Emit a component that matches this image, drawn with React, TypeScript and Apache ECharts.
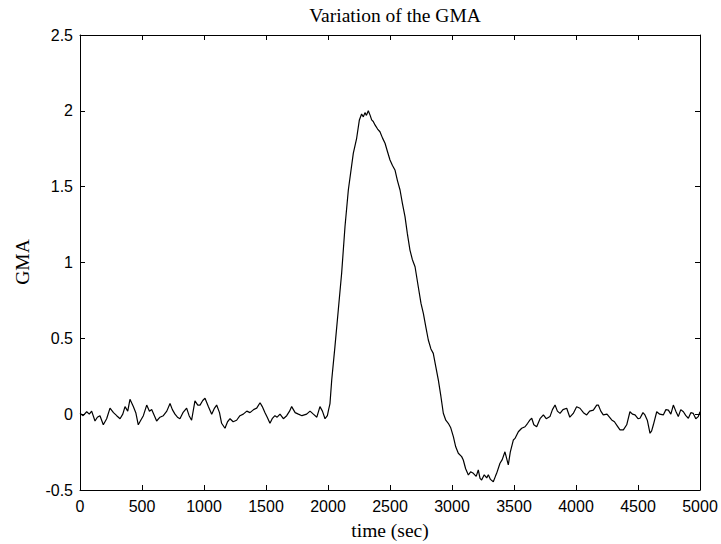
import React, { useEffect, useRef } from "react";
import * as echarts from "echarts";

const titleText = "Variation of the GMA";
const xLabel = "time (sec)";
const yLabel = "GMA";

const timeSec: number[] = [
  0, 25, 54, 75, 94, 121, 140, 161, 188, 215, 242, 270, 296, 323, 345, 363, 385, 403, 430, 450,
  470, 490, 511, 538, 560, 578, 600, 618, 645, 672, 700, 726, 745, 766, 786, 806, 830, 860, 880, 900,
  927, 950, 968, 990, 1008, 1035, 1062, 1085, 1102, 1125, 1142, 1169, 1190, 1210, 1235, 1263, 1290, 1317, 1345, 1371,
  1400, 1425, 1452, 1470, 1492, 1510, 1532, 1550, 1572, 1590, 1613, 1640, 1667, 1690, 1707, 1735, 1761, 1790, 1828, 1855,
  1882, 1910, 1935, 1955, 1976, 1995, 2005,
  2016, 2030, 2056, 2083, 2110, 2137, 2164, 2204, 2231, 2253, 2271, 2285, 2298, 2310, 2325, 2340, 2352, 2365, 2379, 2400,
  2419, 2440, 2460, 2480, 2500, 2520, 2540, 2560, 2581, 2600, 2621, 2640, 2661, 2680, 2702, 2728, 2750, 2769, 2790, 2809,
  2830, 2849, 2870, 2890, 2910, 2930, 2950, 2970, 2990, 3011, 3030, 3051, 3078, 3091, 3110, 3132, 3150, 3172, 3195, 3212,
  3226, 3239, 3260, 3280, 3293, 3310, 3333, 3350, 3360, 3387, 3405, 3427, 3440, 3454, 3470, 3495, 3508, 3535, 3562, 3589,
  3610, 3629, 3643, 3660, 3683, 3710, 3737, 3760, 3790, 3810, 3831, 3850, 3871, 3895, 3925, 3950, 3978, 4005, 4032, 4060,
  4086, 4110, 4140, 4167, 4180, 4200, 4220, 4250, 4288, 4310, 4335, 4355, 4382, 4409, 4435, 4455, 4476, 4500, 4516, 4540,
  4556, 4575, 4597, 4610, 4624, 4651, 4675, 4704, 4725, 4745, 4765, 4785, 4805, 4825, 4845, 4866, 4886, 4906, 4926, 4946,
  4966, 4986, 5000,
];

const gmaValues: number[] = [
  0.006, -0.01, 0.016, 0.0, 0.02, -0.045, -0.02, -0.01, -0.07, -0.03, 0.04, 0.01, -0.01, -0.03, 0.0, 0.05, 0.02, 0.098, 0.05, 0.01,
  -0.07, -0.04, -0.01, 0.06, 0.02, 0.03, -0.01, -0.045, -0.02, -0.01, 0.02, 0.07, 0.03, 0.0, -0.02, -0.03, 0.01, 0.04, -0.01, -0.04,
  0.088, 0.06, 0.06, 0.09, 0.105, 0.05, 0.0, 0.04, 0.06, 0.01, -0.06, -0.093, -0.05, -0.03, -0.05, -0.04, -0.01, 0.0, 0.02, 0.01,
  0.03, 0.04, 0.075, 0.05, 0.01, -0.02, -0.06, -0.03, -0.01, -0.02, 0.0, -0.03, -0.01, 0.02, 0.05, 0.01, 0.0, -0.01, 0.0, 0.02,
  0.0, -0.02, 0.05, 0.02, -0.03, -0.01, 0.03,
  0.07, 0.225, 0.445, 0.687, 0.929, 1.236, 1.478, 1.72, 1.819, 1.94, 1.979, 1.96, 1.988, 1.97, 2.0, 1.97, 1.94, 1.93, 1.907, 1.88,
  1.862, 1.82, 1.786, 1.73, 1.676, 1.64, 1.61, 1.54, 1.478, 1.39, 1.302, 1.19, 1.082, 1.02, 0.972, 0.84, 0.73, 0.665, 0.57, 0.489,
  0.43, 0.401, 0.31, 0.225, 0.12, 0.006, -0.04, -0.06, -0.09, -0.148, -0.215, -0.258, -0.28, -0.302, -0.36, -0.401, -0.38, -0.39, -0.41, -0.368,
  -0.423, -0.434, -0.4, -0.42, -0.4, -0.43, -0.445, -0.41, -0.39, -0.324, -0.3, -0.248, -0.29, -0.335, -0.25, -0.17, -0.16, -0.116, -0.093, -0.083,
  -0.06, -0.038, -0.027, -0.07, -0.083, -0.03, -0.005, -0.03, -0.016, 0.03, 0.06, 0.02, 0.005, 0.03, 0.039, -0.02, 0.005, 0.049, 0.039, 0.01,
  -0.005, 0.02, 0.027, 0.06, 0.06, 0.02, -0.005, 0.0, -0.038, -0.05, -0.08, -0.104, -0.104, -0.07, 0.016, 0.0, -0.005, -0.03, -0.027, 0.01,
  -0.005, -0.04, -0.126, -0.11, -0.07, 0.016, 0.0, -0.005, 0.03, 0.027, 0.0, 0.06, 0.02, -0.016, 0.03, 0.016, -0.01, -0.027, 0.01, 0.005,
  -0.03, -0.016, 0.016,
];

const xMin = 0;
const xMax = 5000;
const xStep = 500;
const yMin = -0.5;
const yMax = 2.5;
const yStep = 0.5;

export default function App() {
  const ref = useRef<HTMLDivElement>(null);

  useEffect(() => {
    document.body.style.margin = "0";
    if (!ref.current) return;
    const chart = echarts.init(ref.current, null, { renderer: "svg" });
    const data = timeSec.map((t, i) => [t, gmaValues[i]]);
    const sans = "'Liberation Sans', Arial, sans-serif";
    const serif = "'Liberation Serif', 'Times New Roman', serif";
    const tickStyle = { show: true, inside: true, length: 5, lineStyle: { color: "#000", width: 1 } };
    const lineStyle = { show: true, onZero: false, lineStyle: { color: "#000", width: 1 } };
    const plain = (v: number) => String(v);
    chart.setOption({
      animation: false,
      backgroundColor: "#fff",
      grid: { left: 80, right: 21, top: 35, bottom: 54, containLabel: false },
      title: {
        text: titleText,
        left: 390,
        top: 0,
        textAlign: "center",
        textStyle: { fontFamily: serif, fontSize: 19.5, fontWeight: "normal", color: "#000" },
      },
      graphic: [
        {
          type: "text",
          x: 390,
          y: 530,
          style: { text: xLabel, font: `19.5px ${serif}`, fill: "#000", textAlign: "center", textVerticalAlign: "middle" },
        },
        {
          type: "text",
          x: 22,
          y: 262,
          rotation: Math.PI / 2,
          style: { text: yLabel, font: `19.5px ${serif}`, fill: "#000", textAlign: "center", textVerticalAlign: "middle" },
        },
      ],
      xAxis: [
        {
          type: "value",
          min: xMin,
          max: xMax,
          interval: xStep,
          position: "bottom",
          axisLine: lineStyle,
          axisTick: tickStyle,
          splitLine: { show: false },
          axisLabel: { color: "#000", fontFamily: sans, fontSize: 16, margin: 8, formatter: plain },
        },
        {
          type: "value",
          min: xMin,
          max: xMax,
          interval: xStep,
          position: "top",
          axisLine: lineStyle,
          axisTick: tickStyle,
          splitLine: { show: false },
          axisLabel: { show: false },
        },
      ],
      yAxis: [
        {
          type: "value",
          min: yMin,
          max: yMax,
          interval: yStep,
          position: "left",
          axisLine: lineStyle,
          axisTick: tickStyle,
          splitLine: { show: false },
          axisLabel: { color: "#000", fontFamily: sans, fontSize: 16, margin: 7, formatter: plain },
        },
        {
          type: "value",
          min: yMin,
          max: yMax,
          interval: yStep,
          position: "right",
          axisLine: lineStyle,
          axisTick: tickStyle,
          splitLine: { show: false },
          axisLabel: { show: false },
        },
      ],
      series: [
        {
          type: "line",
          data,
          xAxisIndex: 0,
          yAxisIndex: 0,
          showSymbol: false,
          symbol: "none",
          lineStyle: { color: "#000", width: 1.2 },
        },
      ],
    });
    return () => chart.dispose();
  }, []);

  return <div ref={ref} style={{ width: 721, height: 544 }} />;
}
